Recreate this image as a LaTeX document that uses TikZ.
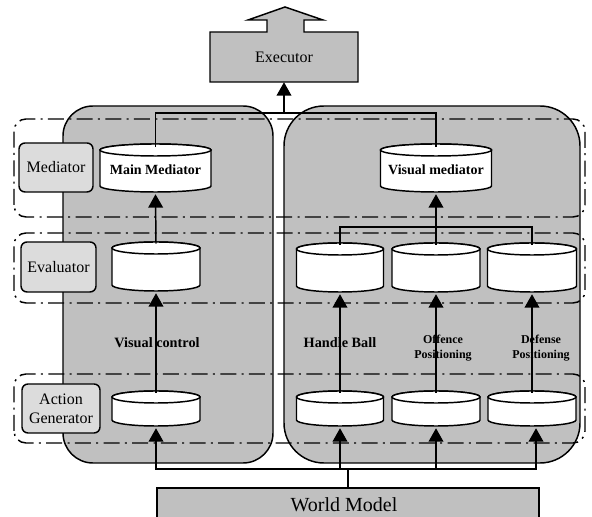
\documentclass[tikz,border=0pt]{standalone}
\usepackage{fontspec}
\setmainfont{Liberation Serif}
\usetikzlibrary{arrows.meta}
\definecolor{panelgray}{HTML}{C0C0C0}
\definecolor{labelgray}{HTML}{DCDCDC}
\tikzset{
  panel/.style={draw=black, fill=panelgray, line width=1.1pt},
  layerbox/.style={draw=black, line width=1.1pt, rounded corners=9pt,
    dash pattern=on 12pt off 4pt on 1.5pt off 4pt},
  labelbox/.style={draw=black, fill=labelgray, line width=1.1pt, rounded corners=4.5pt,
    align=center, font=\fontsize{12}{14.5}\selectfont, inner sep=0pt},
  cylline/.style={draw=black, fill=white, line width=1.1pt},
  cyltext/.style={inner sep=0pt, align=center, font=\fontsize{10.5}{12}\selectfont\bfseries},
  conn/.style={draw=black, line width=1.1pt},
  arr/.style={conn, -{Triangle[width=11pt,length=10pt]}},
  steplabel/.style={align=center, font=\fontsize{10.7}{12}\selectfont\bfseries},
  smalllabel/.style={align=center, font=\fontsize{9}{11.25}\selectfont\bfseries},
}
% name, cx, cy, w, h, text
\newcommand\cylnode[6]{%
  \pgfmathsetmacro\hw{#4/2}%
  \pgfmathsetmacro\ytop{#3+#5/2-6}%
  \pgfmathsetmacro\ybot{#3-#5/2+6}%
  \filldraw[cylline] (#2-\hw,\ytop) -- (#2-\hw,\ybot)
    arc[start angle=180,end angle=360,x radius=\hw,y radius=6]
    -- (#2+\hw,\ytop) arc[start angle=0,end angle=180,x radius=\hw,y radius=6] -- cycle;
  \draw[cylline] (#2,\ytop) ellipse[x radius=\hw,y radius=6];
  \node[cyltext, minimum width={#4*0.75pt}, minimum height={#5*0.75pt}] (#1) at (#2,#3-2) {#6};%
}
\begin{document}
\begin{tikzpicture}[x=0.75pt,y=0.75pt]
\useasboundingbox (0,0) rectangle (592,517);

% panels
\draw[panel, rounded corners=22.5pt] (63,54) rectangle (273,411);
\draw[panel, rounded corners=30pt] (284,54) rectangle (580,411);

% layer boxes
\draw[layerbox] (14,300) rectangle (585,398);
\draw[layerbox] (14,214) rectangle (585,284);
\draw[layerbox] (14,74) rectangle (585,143);

% layer labels
\node[labelbox, minimum width={74*0.75pt}, minimum height={49*0.75pt}] (lmed) at (56,349.5) {Mediator};
\node[labelbox, minimum width={75*0.75pt}, minimum height={50*0.75pt}] (leval) at (58.5,250) {Evaluator};
\node[labelbox, minimum width={78*0.75pt}, minimum height={49*0.75pt}] (lact) at (61,108.5) {Action\\Generator};

% executor
\path[panel] (210,435) -- (358,435) -- (358,485) -- (304,485) -- (304,497) -- (323,497)
  -- (285,510) -- (248,497) -- (267,497) -- (267,485) -- (210,485) -- cycle;
\node[inner sep=0pt, minimum width={148*0.75pt}, minimum height={50*0.75pt},
  font=\fontsize{12}{14}\selectfont] (exec) at (284,460) {Executor};

% cylinders
\cylnode{mm}{155.5}{349}{111}{48}{Main Mediator}
\cylnode{vm}{436}{349}{111}{48}{Visual mediator}
\cylnode{le}{156}{250.5}{88}{49}{}
\cylnode{re1}{340}{249.5}{87}{49}{}
\cylnode{re2}{436}{249.5}{88}{49}{}
\cylnode{re3}{532}{249.5}{89}{49}{}
\cylnode{la}{156}{108.5}{88}{35}{}
\cylnode{ra1}{340}{108.5}{87}{35}{}
\cylnode{ra2}{436}{108.5}{88}{35}{}
\cylnode{ra3}{532}{108.5}{88}{35}{}

% world model
\node[panel, minimum width={382*0.75pt}, minimum height={42*0.75pt}] (wm) at (348,8) {};
\node[font=\fontsize{15}{17}\selectfont, inner sep=0pt] (wmt) at (344,12) {World Model};

% connectors: mediators to executor
\coordinate (j1) at (284,404);
\draw[conn] ([yshift=-1pt]mm.north) |- (j1);
\draw[conn] ([yshift=-1pt]vm.north) |- (j1);
\draw[arr] (j1) -- (exec.south);

% evaluators to mediators
\draw[arr] (le.north) -- (mm.south);
\coordinate (j2) at (436,290);
\draw[conn] (re1.north) |- (j2) -| (re3.north);
\draw[arr] (re2.north) -- (vm.south);

% action generators to evaluators
\draw[arr] (la.north) -- (le.south);
\draw[arr] (ra1.north) -- (re1.south);
\draw[arr] (ra2.north) -- (re2.south);
\draw[arr] (ra3.north) -- (re3.south);

% world model to action generators
\coordinate (b) at (348,48);
\draw[conn] (wm.north) -- (b);
\draw[arr] (b) -| (la.south);
\draw[arr] (b) -| (ra1.south);
\draw[arr] (b) -| (ra2.south);
\draw[arr] (b) -| ([xshift=3pt]ra3.south);

% step labels
\node[steplabel] (tvc) at (157,174) {Visual control};
\node[steplabel] (thb) at (340,174) {Handle Ball};
\node[smalllabel] (toff) at (443,169) {Offence\\Positioning};
\node[smalllabel] (tdef) at (541,169) {Defense\\Positioning};
\end{tikzpicture}
\end{document}
